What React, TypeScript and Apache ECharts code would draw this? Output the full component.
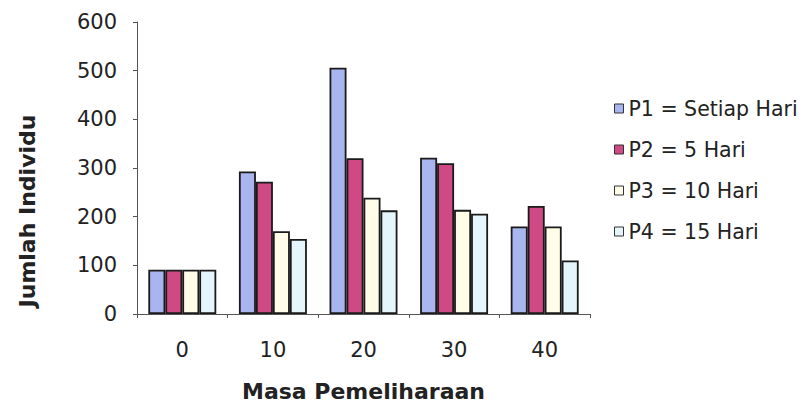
import React, { useEffect, useRef } from "react";
import * as echarts from "echarts";

const categories = ["0", "10", "20", "30", "40"];
const seriesNames = ["P1 = Setiap Hari", "P2 = 5 Hari", "P3 = 10 Hari", "P4 = 15 Hari"];
const p1 = [91, 293, 506, 321, 180];
const p2 = [91, 272, 320, 310, 222];
const p3 = [91, 170, 239, 214, 180];
const p4 = [91, 154, 213, 206, 110];
const colors = ["#a9b5ef", "#cf4a84", "#fffce8", "#e4f5fb"];
const yTicks = { min: 0, max: 600, interval: 100 };

export default function App() {
  const ref = useRef<HTMLDivElement>(null);
  useEffect(() => {
    if (!ref.current) return;
    const chart = echarts.init(ref.current, undefined, { renderer: "svg" });
    const font = "'DejaVu Sans', sans-serif";
    const values = [p1, p2, p3, p4];
    chart.setOption({
      animation: false,
      backgroundColor: "#ffffff",
      textStyle: { fontFamily: font },
      grid: { left: 126, top: 14, width: 456, height: 292, containLabel: false },
      legend: {
        orient: "vertical",
        left: 601,
        top: 85,
        itemWidth: 9,
        itemHeight: 9,
        itemGap: 20,
        icon: "rect",
        textStyle: { fontSize: 20.5, color: "#222", fontFamily: font },
        itemStyle: { borderColor: "#333", borderWidth: 1 },
        data: seriesNames,
      },
      xAxis: {
        type: "category",
        data: categories,
        name: "Masa Pemeliharaan",
        nameLocation: "middle",
        nameGap: 66,
        nameTextStyle: { fontSize: 22, fontWeight: "bold", color: "#222", fontFamily: font },
        axisLine: { lineStyle: { color: "#555", width: 1 } },
        axisTick: { show: true, length: 4, lineStyle: { color: "#555" } },
        axisLabel: { fontSize: 21, color: "#222", margin: 25, fontFamily: font },
      },
      yAxis: {
        type: "value",
        min: yTicks.min,
        max: yTicks.max,
        interval: yTicks.interval,
        name: "Jumlah Individu",
        nameLocation: "middle",
        nameRotate: 90,
        nameGap: 99,
        nameTextStyle: {
          fontSize: 22,
          fontWeight: "bold",
          color: "#222",
          fontFamily: font,
          padding: [0, 86, 0, 0],
        },
        splitLine: { show: false },
        axisLine: { show: true, lineStyle: { color: "#555", width: 1 } },
        axisTick: { show: true, length: 4, lineStyle: { color: "#555" } },
        axisLabel: { fontSize: 21, color: "#222", margin: 20, fontFamily: font },
      },
      series: seriesNames.map((name, i) => ({
        name,
        type: "bar",
        data: values[i],
        barGap: "0%",
        barCategoryGap: "25%",
        itemStyle: { color: colors[i], borderColor: "#1a1a1a", borderWidth: 1.8 },
      })),
    });
    return () => chart.dispose();
  }, []);
  return <div ref={ref} style={{ width: 803, height: 400 }} />;
}
